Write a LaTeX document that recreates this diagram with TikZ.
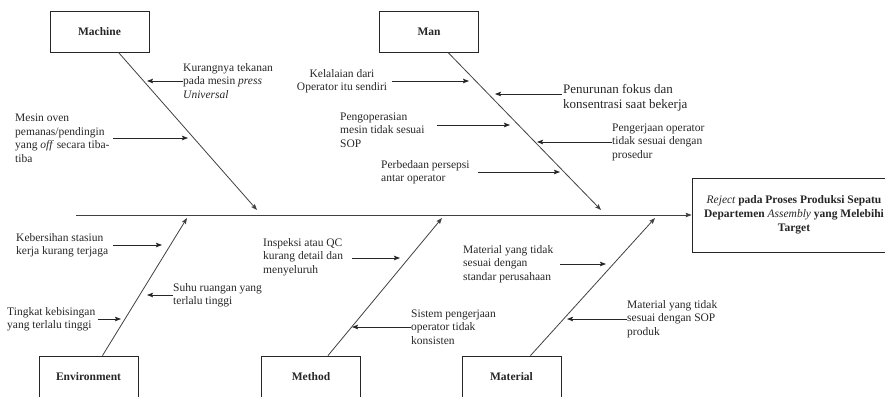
\documentclass[tikz,border=0pt]{standalone}
\usepackage{fontspec}
\setmainfont{Liberation Serif}
\usetikzlibrary{arrows.meta,calc}

\begin{document}
\begin{tikzpicture}[x=1pt,y=-1pt,
        every node/.style={font=\fontsize{11.5}{13.5}\selectfont,text=black!85},
        kategori/.style={draw=black!85,line width=0.8pt,minimum width=99pt,minimum height=41pt,
            font=\fontsize{11.5}{13.5}\selectfont\bfseries},
        sebab/.style={anchor=west,align=left,inner sep=0pt},
        tulang/.style={draw=black!75,line width=0.8pt,-{Stealth[length=6pt,width=4.5pt,inset=1pt]}},
        panah/.style={draw=black!85,line width=0.8pt,-{Stealth[length=6pt,width=4.5pt,inset=1pt]}}]
        \useasboundingbox (0,0) rectangle (885,396);
        \clip (0,0) rectangle (885,396);
        \node[kategori] (machine) at (99.5,31.5) {Machine};
        \node[kategori] (man) at (429,31.5) {Man};
        \node[kategori] (env) at (88.5,376.5) {Environment};
        \node[kategori] (method) at (311,376.5) {Method};
        \node[kategori] (material) at (511.5,376.5) {Material};
        \node[draw=black!85,line width=0.8pt,minimum width=204pt,minimum height=74pt,align=center,
            font=\fontsize{11.5}{14}\selectfont\bfseries] (akibat) at (794,215)
            {{\mdseries\itshape Reject} pada Proses Produksi Sepatu\\Departemen {\mdseries\itshape Assembly} yang Melebihi\\Target};
        \coordinate (ekor) at (76,215);
        \coordinate (machineU) at (257,210);
        \coordinate (manU) at (601,210);
        \coordinate (envU) at (187,218);
        \coordinate (methodU) at (442,218);
        \coordinate (materialU) at (655,218);
        \draw[tulang] (ekor) -- (akibat.west);
        \draw[tulang] ($(machine.south east)!0.31!(machine.south west)$) -- (machineU);
        \draw[tulang] ($(man.south east)!0.31!(man.south west)$) -- (manU);
        \draw[tulang] ($(env.north east)!0.36!(env.north west)$) -- (envU);
        \draw[tulang] ($(method.north east)!0.33!(method.north west)$) -- (methodU);
        \draw[tulang] ($(material.north east)!0.31!(material.north west)$) -- (materialU);
        \node[sebab] (tekanan) at (183,81) {Kurangnya tekanan\\pada mesin \textit{press}\\\textit{Universal}};
        \coordinate (tekananU) at (147,81);
        \draw[panah] (tekanan.west) -- (tekananU);
        \node[sebab] (oven) at (15,138) {Mesin oven\\pemanas/pendingin\\yang \textit{off} secara tiba-\\tiba};
        \coordinate (ovenA) at (113,138);
        \coordinate (ovenU) at (188,138);
        \draw[panah] (ovenA) -- (ovenU);
        \node[align=center,inner sep=0pt] (lalai) at (342,81) {Kelalaian dari\\Operator itu sendiri};
        \coordinate (lalaiA) at (392,81);
        \coordinate (lalaiU) at (469,81);
        \draw[panah] (lalaiA) -- (lalaiU);
        \node[sebab,font=\fontsize{13}{15}\selectfont] (fokus) at (563,98) {Penurunan fokus dan\\konsentrasi saat bekerja};
        \coordinate (fokusA) at (562,94);
        \coordinate (fokusU) at (495,94);
        \draw[panah] (fokusA) -- (fokusU);
        \node[sebab] (operasi) at (340,130) {Pengoperasian\\mesin tidak sesuai\\SOP};
        \coordinate (operasiA) at (437,125);
        \coordinate (operasiU) at (510,125);
        \draw[panah] (operasiA) -- (operasiU);
        \node[sebab] (prosedur) at (612,142) {Pengerjaan operator\\tidak sesuai dengan\\prosedur};
        \coordinate (prosedurU) at (537,142);
        \draw[panah] (prosedur.west) -- (prosedurU);
        \node[sebab] (persepsi) at (381,172) {Perbedaan persepsi\\antar operator};
        \coordinate (persepsiA) at (478,172);
        \coordinate (persepsiU) at (560,172);
        \draw[panah] (persepsiA) -- (persepsiU);
        \node[sebab] (bersih) at (16,245) {Kebersihan stasiun\\kerja kurang terjaga};
        \coordinate (bersihA) at (113,245);
        \coordinate (bersihU) at (162,245);
        \draw[panah] (bersihA) -- (bersihU);
        \node[sebab] (suhu) at (173,295) {Suhu ruangan yang\\terlalu tinggi};
        \coordinate (suhuU) at (147,295);
        \draw[panah] (suhu.west) -- (suhuU);
        \node[sebab] (bising) at (7,319) {Tingkat kebisingan\\yang terlalu tinggi};
        \coordinate (bisingA) at (98,319);
        \coordinate (bisingU) at (121,319);
        \draw[panah] (bisingA) -- (bisingU);
        \node[sebab] (inspeksi) at (263,257) {Inspeksi atau QC\\kurang detail dan\\menyeluruh};
        \coordinate (inspeksiA) at (352,258);
        \coordinate (inspeksiU) at (400,258);
        \draw[panah] (inspeksiA) -- (inspeksiU);
        \node[sebab] (sistem) at (411,327) {Sistem pengerjaan\\operator tidak\\konsisten};
        \coordinate (sistemU) at (352,327);
        \draw[panah] (sistem.west) -- (sistemU);
        \node[sebab] (standar) at (463,264) {Material yang tidak\\sesuai dengan\\standar perusahaan};
        \coordinate (standarA) at (560,264);
        \coordinate (standarU) at (606,264);
        \draw[panah] (standarA) -- (standarU);
        \node[sebab] (sop) at (627,319) {Material yang tidak\\sesuai dengan SOP\\produk};
        \coordinate (sopU) at (567,319);
        \draw[panah] (sop.west) -- (sopU);
\end{tikzpicture}
\end{document}
